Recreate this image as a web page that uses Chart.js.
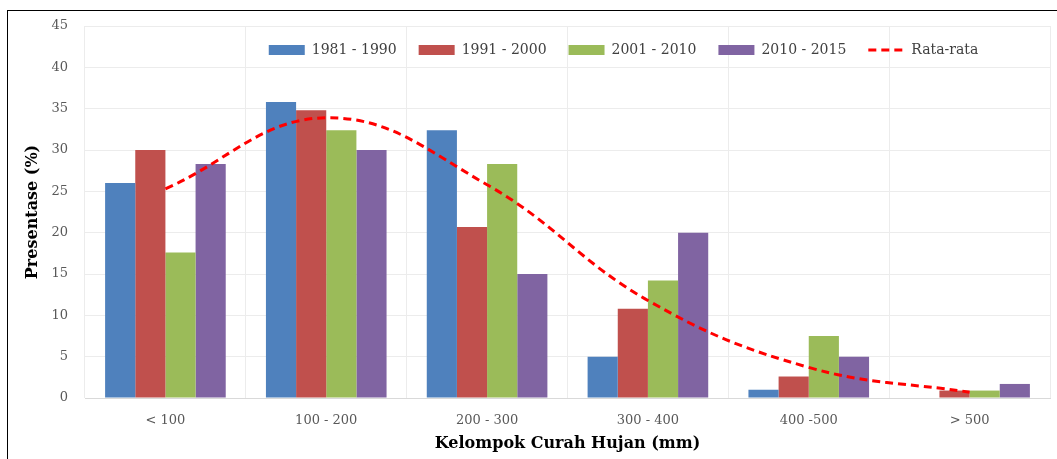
<!DOCTYPE html>
<html>
<head>
<meta charset="utf-8">
<script src="https://cdn.jsdelivr.net/npm/chart.js@4.4.1/dist/chart.umd.min.js"></script>
<style>
  html, body { margin: 0; padding: 0; background: #fff; }
  #wrap { position: relative; width: 1057px; height: 459px; overflow: hidden; }
  #frame { position: absolute; left: 7px; top: 10px; width: 1100px; height: 500px;
           border-left: 1px solid #000; border-top: 1px solid #000; pointer-events: none; }
  canvas { position: absolute; left: 0; top: 0; }
</style>
</head>
<body>
<div id="wrap">
  <canvas id="chart" width="1057" height="459"></canvas>
  <div id="frame"></div>
</div>
<script>
// Kategori curah hujan
const kelompok = ['< 100', '100 - 200', '200 - 300', '300 - 400', '400 -500', '> 500'];

// Persentase per periode
const p1981 = [26, 35.8, 32.4, 5, 1, 0];
const p1991 = [30, 34.8, 20.7, 10.8, 2.6, 0.9];
const p2001 = [17.6, 32.4, 28.3, 14.2, 7.5, 0.9];
const p2010 = [28.3, 30, 15, 20, 5, 1.7];

// garis rata-rata
const rataRata = [25.3, 33.9, 25.8, 11.8, 3.7, 0.7];

const yTicks = [0, 5, 10, 15, 20, 25, 30, 35, 40, 45];

const serif = 'DejaVu Serif';

// geser legenda ke dalam area grafik
const legendShift = {
    id: 'legendShift',
    afterLayout(chart) {
        const lg = chart.legend;
        const h = lg.bottom - lg.top;
        lg.top = 21;
        lg.bottom = lg.top + h;
        lg.left = 95;
        lg.right = chart.width + 95;
    }
};

const ctx = document.getElementById('chart').getContext('2d');
const chart = new Chart(ctx, {
    type: 'bar',
    data: {
        labels: kelompok,
        datasets: [
            { label: '1981 - 1990', data: p1981, backgroundColor: '#4F81BD', pointStyle: 'rect', order: 1 },
            { label: '1991 - 2000', data: p1991, backgroundColor: '#C0504D', pointStyle: 'rect', order: 1 },
            { label: '2001 - 2010', data: p2001, backgroundColor: '#9BBB59', pointStyle: 'rect', order: 1 },
            { label: '2010 - 2015', data: p2010, backgroundColor: '#8064A2', pointStyle: 'rect', order: 1 },
            {
                type: 'line',
                label: 'Rata-rata',
                data: rataRata,
                borderColor: '#FF0000',
                backgroundColor: '#FF0000',
                borderWidth: 3,
                borderDash: [8, 5],
                tension: 0.4,
                pointRadius: 0,
                pointStyle: 'line',
                fill: false,
                order: 0
            }
        ]
    },
    options: {
        responsive: false,
        animation: false,
        devicePixelRatio: 1,
        datasets: {
            bar: { barPercentage: 1, categoryPercentage: 0.75, borderWidth: 0 }
        },
        // legenda menumpang di atas area plot, jadi padding atas dibuat negatif
        layout: { padding: { top: -20, right: 7, bottom: 0, left: 0 } },
        plugins: {
            legend: {
                position: 'top',
                labels: {
                    usePointStyle: true,
                    pointStyleWidth: 36,
                    boxHeight: 10,
                    padding: 22,
                    color: '#404040',
                    font: { family: serif, size: 14 },
                    sort: (a, b) => a.datasetIndex - b.datasetIndex,
                    generateLabels: (chart) => {
                        const items = Chart.defaults.plugins.legend.labels.generateLabels(chart);
                        items.forEach(it => {
                            const ds = chart.data.datasets[it.datasetIndex];
                            if (ds.type === 'line') {
                                it.lineDash = [8, 5];
                                it.lineWidth = 3;
                                it.strokeStyle = ds.borderColor;
                            }
                        });
                        return items;
                    }
                }
            },
            tooltip: { enabled: false }
        },
        scales: {
            x: {
                grid: { color: '#ececec', drawTicks: false, offset: true },
                border: { color: '#d9d9d9' },
                ticks: { color: '#595959', padding: 15, font: { family: serif, size: 13 } },
                title: {
                    display: true,
                    text: 'Kelompok Curah Hujan (mm)',
                    color: '#000',
                    padding: { top: 0, bottom: 6 },
                    font: { family: serif, size: 16, weight: 'bold' }
                },
                afterFit: (scale) => { scale.height = 61; }
            },
            y: {
                min: 0,
                max: 45,
                afterBuildTicks: (scale) => { scale.ticks = yTicks.map(v => ({ value: v })); },
                grid: { color: '#ececec', drawTicks: false },
                border: { display: false },
                ticks: { color: '#595959', padding: 17, font: { family: serif, size: 13 } },
                title: {
                    display: true,
                    text: 'Presentase (%)',
                    color: '#000',
                    padding: { top: 23, bottom: 0 },
                    font: { family: serif, size: 16, weight: 'bold' }
                },
                afterFit: (scale) => { scale.width = 85; }
            }
        }
    },
    plugins: [legendShift]
});
</script>
</body>
</html>
